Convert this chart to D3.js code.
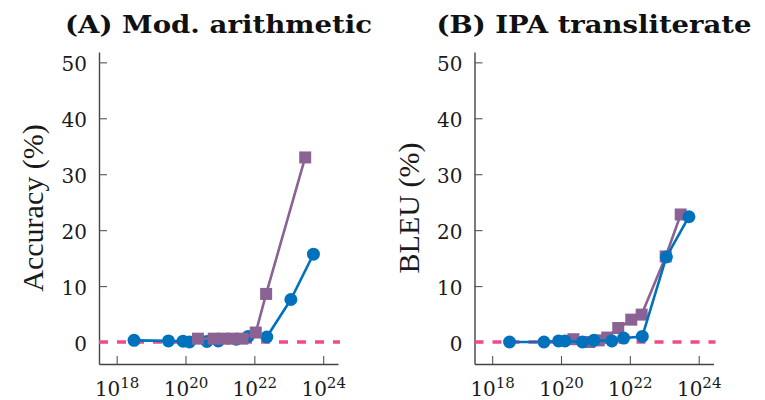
<!DOCTYPE html>
<html>
<head>
<meta charset="utf-8">
<script src="https://cdn.jsdelivr.net/npm/d3@7/dist/d3.min.js"></script>
<style>
  html, body { margin: 0; padding: 0; background: #fff; }
  svg { display: block; }
</style>
</head>
<body>
<svg id="chart" width="765" height="400"></svg>
<script>
// Training compute (FLOPs) for each model family
const blueCompute = [3.2e18, 3.2e19, 8.5e19, 1.3e20, 4.2e20, 9.0e20, 3.0e21, 6.6e21, 2.3e22, 1.15e23, 5.2e23];
const purpleComputeA = [2.3e20, 6.6e20, 1.25e21, 2.3e21, 4.5e21, 1.1e22, 2.2e22, 3.0e23];
const purpleComputeB = [2.3e20, 6.6e20, 1.25e21, 2.2e21, 4.6e21, 1.1e22, 2.2e22, 1.1e23, 3.0e23];

// (A) Mod. arithmetic — accuracy (%)
const modBlue   = [0.3, 0.2, 0.15, 0.0, 0.1, 0.2, 0.5, 1.0, 0.9, 7.6, 15.7];
const modPurple = [0.6, 0.6, 0.6, 0.6, 0.6, 1.7, 8.6, 33.0];

// (B) IPA transliterate — BLEU (%)
const ipaBlue   = [0.0, 0.0, 0.2, 0.2, 0.0, 0.3, 0.2, 0.7, 1.0, 15.2, 22.4];
const ipaPurple = [0.5, 0.0, 0.3, 0.8, 2.5, 4.0, 4.9, 15.3, 22.8];

// Axis ticks
const xTicks = [1e18, 1e20, 1e22, 1e24];
const yTicks = [0, 10, 20, 30, 40, 50];
const randomBaseline = 0;

const titles = ["(A) Mod. arithmetic", "(B) IPA transliterate"];
const yLabels = ["Accuracy (%)", "BLEU (%)"];

const BLUE = "#0072BD";
const PURPLE = "#8A6294";
const PINK = "#EE4A8E";

const svg = d3.select("#chart");

const plotW = 239, plotTop = 52, plotBottom = 364;

const x = d3.scaleLog()
  .domain([Math.pow(10, 17.487), Math.pow(10, 24.43)])
  .range([0, plotW]);
const y = d3.scaleLinear()
  .domain([-3.93, 51.85])
  .range([plotBottom, plotTop]);

function drawSeries(g, xs, ys, color, shape) {
  const pts = xs.map((c, i) => [c, ys[i]]);
  const line = d3.line().x(d => x(d[0])).y(d => y(d[1]));
  g.append("path")
    .datum(pts)
    .attr("d", line)
    .attr("fill", "none")
    .attr("stroke", color)
    .attr("stroke-width", 2.6)
    .attr("stroke-linejoin", "round");
  if (shape === "circle") {
    g.selectAll(null).data(pts).enter().append("circle")
      .attr("cx", d => x(d[0]))
      .attr("cy", d => y(d[1]))
      .attr("r", 6.5)
      .attr("fill", color);
  } else {
    const s = 12;
    g.selectAll(null).data(pts).enter().append("rect")
      .attr("x", d => x(d[0]) - s / 2)
      .attr("y", d => y(d[1]) - s / 2)
      .attr("width", s)
      .attr("height", s)
      .attr("fill", color);
  }
}

function drawPanel(x0, idx, series) {
  const g = svg.append("g").attr("transform", `translate(${x0},0)`);

  // y axis
  const ya = g.append("g")
    .call(d3.axisLeft(y).tickValues(yTicks).tickSize(-8).tickSizeOuter(0).tickPadding(12));
  ya.select(".domain").attr("stroke", "#444").attr("stroke-width", 1.4);
  ya.selectAll(".tick line").attr("stroke", "#555").attr("stroke-width", 1.1);
  ya.selectAll(".tick text")
    .attr("font-family", "'DejaVu Serif', serif")
    .attr("font-size", 20)
    .attr("fill", "#1a1a1a")
    .attr("dy", "0.42em");

  // x axis
  const xa = g.append("g")
    .attr("transform", `translate(0,${plotBottom})`)
    .call(d3.axisBottom(x).tickValues(xTicks).tickSize(-8).tickSizeOuter(0).tickFormat(""));
  xa.select(".domain").attr("stroke", "#444").attr("stroke-width", 1.4);
  xa.selectAll(".tick line").attr("stroke", "#555").attr("stroke-width", 1.1);
  xa.selectAll(".tick text").each(function (d) {
    const t = d3.select(this)
      .text(null)
      .attr("y", 32)
      .attr("dy", null)
      .attr("text-anchor", "middle")
      .attr("font-family", "'DejaVu Serif', serif")
      .attr("fill", "#1a1a1a");
    t.append("tspan").attr("font-size", 20).text("10");
    t.append("tspan").attr("font-size", 15).attr("dy", -8)
      .text(Math.round(Math.log10(d)));
  });

  // zero-accuracy reference line
  g.append("line")
    .attr("x1", 0).attr("x2", plotW + 2)
    .attr("y1", y(randomBaseline)).attr("y2", y(randomBaseline))
    .attr("stroke", PINK)
    .attr("stroke-width", 3.6)
    .attr("stroke-dasharray", "9,9");

  series.forEach(s => drawSeries(g, s.xs, s.ys, s.color, s.shape));

  // panel title
  g.append("text")
    .attr("x", plotW / 2)
    .attr("y", 33)
    .attr("text-anchor", "middle")
    .attr("font-family", "'DejaVu Serif', serif")
    .attr("font-weight", "bold")
    .attr("font-size", 25)
    .attr("fill", "#111")
    .attr("textLength", idx === 0 ? 307 : 315)
    .attr("lengthAdjust", "spacingAndGlyphs")
    .text(titles[idx]);

  // y label
  g.append("text")
    .attr("transform", `translate(-56,208) rotate(-90)`)
    .attr("text-anchor", "middle")
    .attr("font-family", "'Liberation Serif', serif")
    .attr("font-size", 30)
    .attr("fill", "#1a1a1a")
    .text(yLabels[idx]);
}

drawPanel(99, 0, [
  { xs: blueCompute, ys: modBlue, color: BLUE, shape: "circle" },
  { xs: purpleComputeA, ys: modPurple, color: PURPLE, shape: "square" }
]);
drawPanel(474.5, 1, [
  { xs: purpleComputeB, ys: ipaPurple, color: PURPLE, shape: "square" },
  { xs: blueCompute, ys: ipaBlue, color: BLUE, shape: "circle" }
]);
</script>
</body>
</html>
